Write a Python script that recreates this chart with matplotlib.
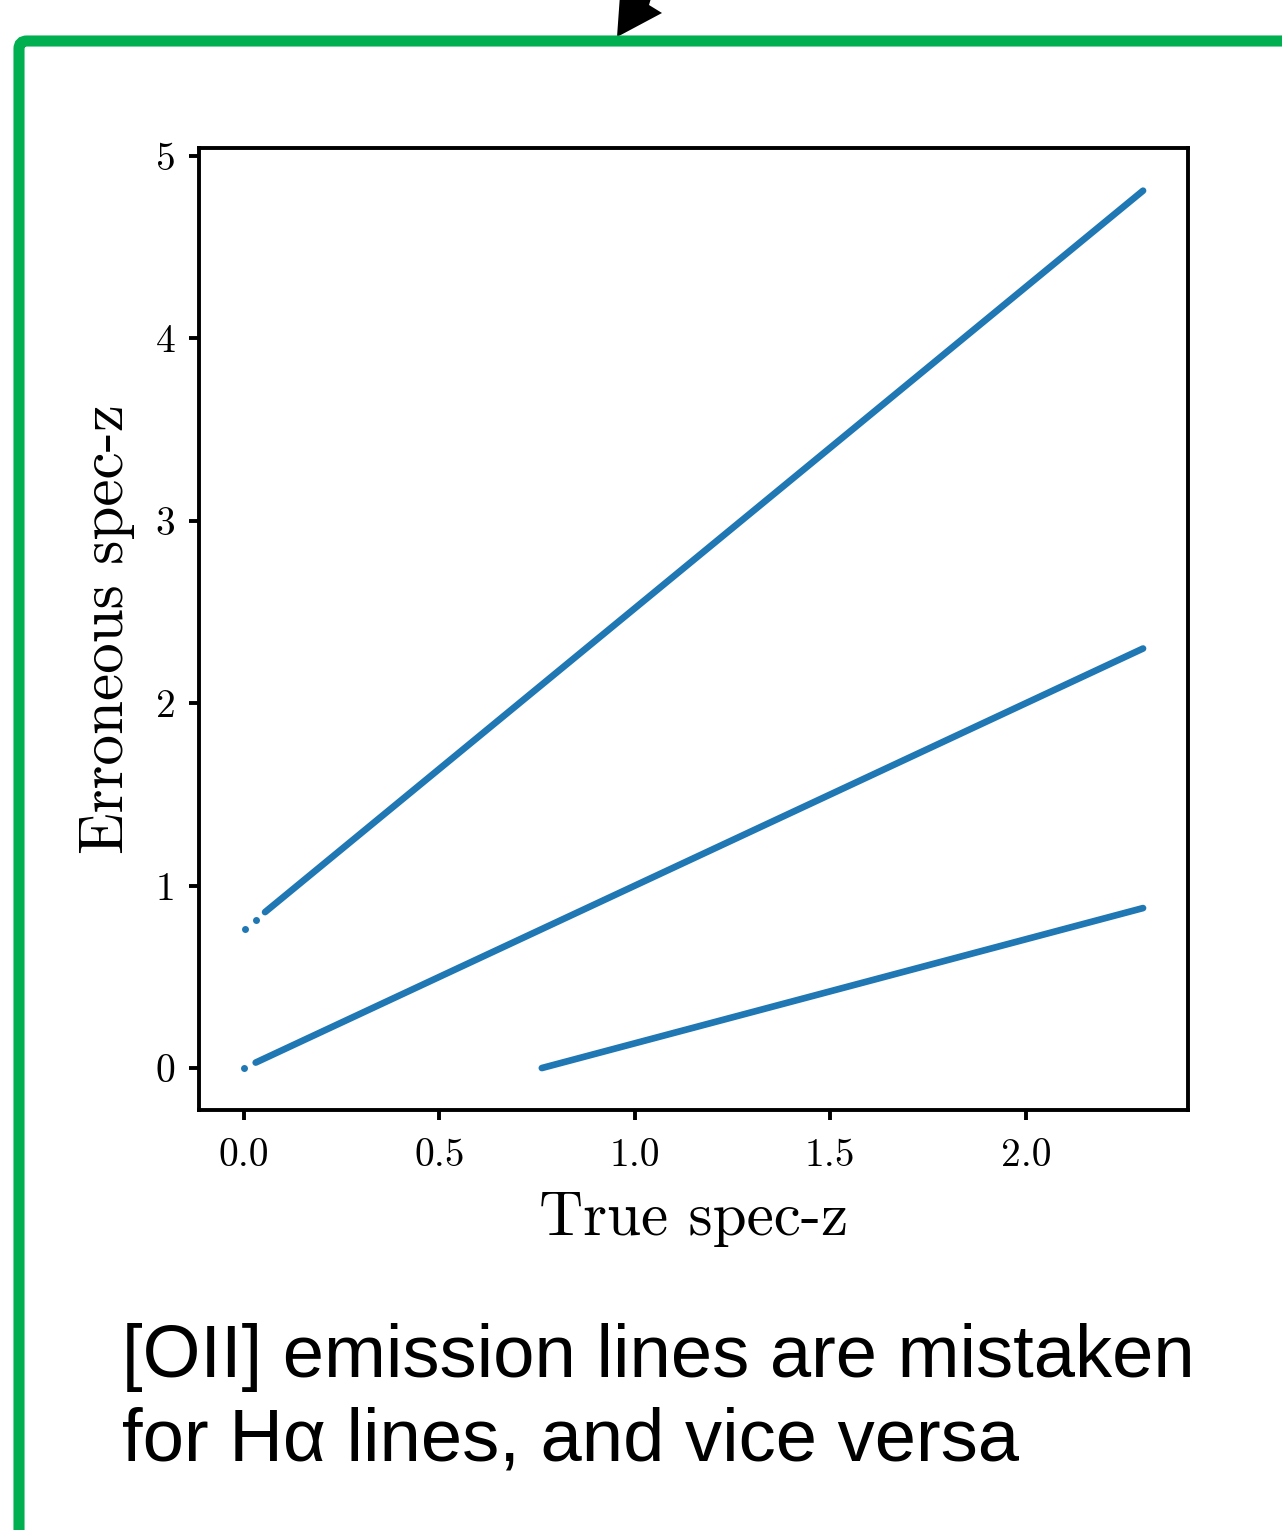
import matplotlib
matplotlib.use("Agg")
import matplotlib.pyplot as plt
from matplotlib.patches import FancyBboxPatch, Polygon
from matplotlib.transforms import IdentityTransform

# ---- data ----
# Halpha mistaken for [OII]
top_dots_x = [0.003, 0.031]
top_dots_y = [0.76, 0.81]
top_x = [0.054, 2.30]
top_y = [0.855, 4.81]
# correct identification
mid_dots_x = [0.0]
mid_dots_y = [0.0]
mid_x = [0.03, 2.30]
mid_y = [0.03, 2.30]
# [OII] mistaken for Halpha
bot_x = [0.762, 2.30]
bot_y = [0.0, 0.877]

xticks = [0.0, 0.5, 1.0, 1.5, 2.0]
yticks = [0, 1, 2, 3, 4, 5]
xlabel = "True spec-z"
ylabel = "Erroneous spec-z"
caption1 = "[OII] emission lines are mistaken"
caption2 = "for H\u03b1 lines, and vice versa"

W, H = 1282, 1530
plt.rcParams['font.family'] = 'serif'
plt.rcParams['font.serif'] = ['cmr10']
plt.rcParams['axes.formatter.use_mathtext'] = True
plt.rcParams['mathtext.fontset'] = 'cm'

fig = plt.figure(figsize=(W / 100, H / 100), dpi=100)
fig.patch.set_facecolor('white')

# arrow tip (decoration) and green frame
arrow_px = [(620, -5), (617, 37), (662, 13), (649, 5), (652, -5)]
fig.add_artist(Polygon([(x, H - y) for x, y in arrow_px], closed=True,
                       facecolor='black', edgecolor='black', lw=0,
                       transform=IdentityTransform(), zorder=1))
fig.add_artist(FancyBboxPatch((19, -60), W + 100, H - 41 + 60,
                              boxstyle="round,pad=0,rounding_size=8",
                              facecolor='none', edgecolor='#00B050', lw=8,
                              transform=IdentityTransform(), zorder=2))

l, r, t, b = 199, 1188, 148, 1110
ax = fig.add_axes([l / W, 1 - b / H, (r - l) / W, (b - t) / H])

c = '#1f77b4'
ax.plot(top_x, top_y, color=c, lw=4.8, solid_capstyle='round')
ax.plot(mid_x, mid_y, color=c, lw=4.8, solid_capstyle='round')
ax.plot(bot_x, bot_y, color=c, lw=4.8, solid_capstyle='round')
ax.plot(top_dots_x, top_dots_y, 'o', color=c, ms=5, mew=0)
ax.plot(mid_dots_x, mid_dots_y, 'o', color=c, ms=5, mew=0)

ax.set_xlim(-0.115, 2.415)
ax.set_ylim(-0.23, 5.044)
ax.set_xticks(xticks)
ax.set_xticklabels([f"{v:.1f}" for v in xticks])
ax.set_yticks(yticks)
ax.set_yticklabels([str(v) for v in yticks])
for s in ax.spines.values():
    s.set_linewidth(2.8)
ax.tick_params(direction='out', length=7, width=2.8, labelsize=28.5)
ax.tick_params(axis='x', pad=13)
ax.tick_params(axis='y', pad=10)
ax.set_xlabel(xlabel, fontsize=44, labelpad=13)
ax.set_ylabel(ylabel, fontsize=44, labelpad=15)

fig.text(122 / W, 1 - 1377 / H, caption1, fontsize=53.5, family=['Liberation Sans', 'DejaVu Sans'],
         va='baseline', ha='left')
fig.text(122 / W, 1 - 1460 / H, caption2, fontsize=53.5, family=['Liberation Sans', 'DejaVu Sans'],
         va='baseline', ha='left')

fig.savefig('out.png', dpi=100)
